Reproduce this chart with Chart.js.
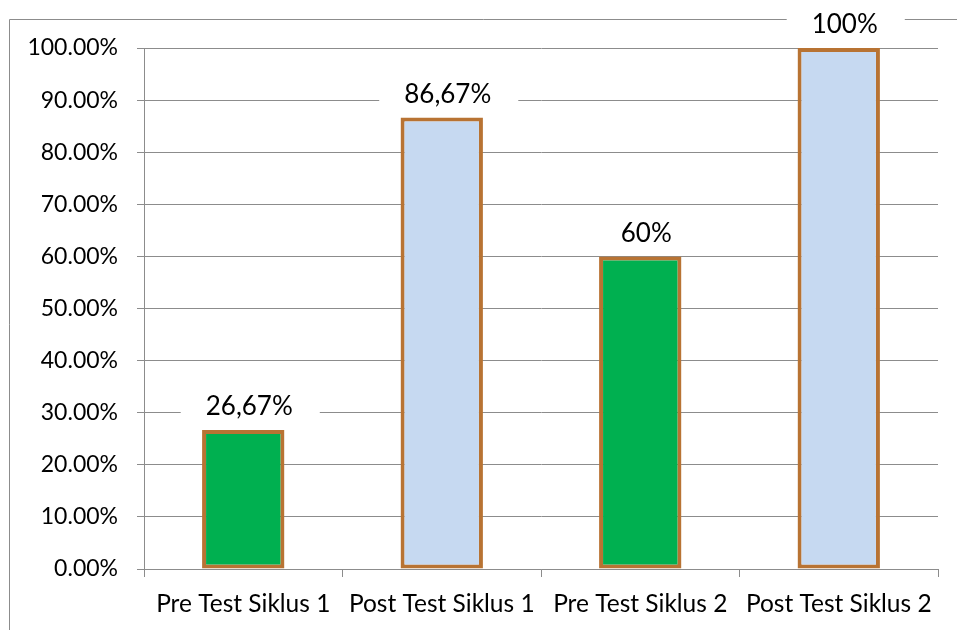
<!DOCTYPE html>
<html>
<head>
<meta charset="utf-8">
<script src="https://cdn.jsdelivr.net/npm/chart.js@4"></script>
<style>
  body { margin: 0; background: #fff; }
  #wrap { width: 957px; height: 630px; }
</style>
</head>
<body>
<div id="wrap"><canvas id="siklusChart" width="957" height="630"></canvas></div>
<script>
const categories = ['Pre Test Siklus 1', 'Post Test Siklus 1', 'Pre Test Siklus 2', 'Post Test Siklus 2'];
const values = [26.67, 86.67, 60, 100];
const valueLabels = ['26,67%', '86,67%', '60%', '100%'];
const barColors = ['#00B050', '#C6D9F1', '#00B050', '#C6D9F1'];

const FONT_Y = { family: 'Lato', size: 23 };
const FONT_X = { family: 'Lato', size: 24.5 };
const LABEL_SIZE = 26;

// frame of the chart, cut off at right and bottom
const framePlugin = {
    id: 'frame',
    beforeDraw(chart) {
        const ctx = chart.ctx;
        ctx.save();
        ctx.strokeStyle = '#8c8c8c';
        ctx.lineWidth = 1;
        ctx.beginPath();
        ctx.moveTo(9.5, 630);
        ctx.lineTo(9.5, 19.5);
        ctx.lineTo(957, 19.5);
        ctx.stroke();
        ctx.restore();
    }
};

// value labels above bars, on a white box
const labelPlugin = {
    id: 'valueLabels',
    afterDatasetsDraw(chart) {
        const ctx = chart.ctx;
        const meta = chart.getDatasetMeta(0);
        ctx.save();
        ctx.font = LABEL_SIZE + 'px Lato';
        ctx.textAlign = 'center';
        ctx.textBaseline = 'middle';
        meta.data.forEach((bar, i) => {
            const text = valueLabels[i];
            const w = ctx.measureText(text).width;
            const cx = bar.x + 6;
            const cy = bar.y - 23;
            ctx.fillStyle = '#fff';
            ctx.fillRect(cx - w / 2 - 25, cy - 15, w + 52, 30);
            ctx.fillStyle = '#000';
            ctx.fillText(text, cx, cy);
        });
        ctx.restore();
    }
};

new Chart(document.getElementById('siklusChart'), {
    type: 'bar',
    data: {
        labels: categories,
        datasets: [{
            data: values,
            backgroundColor: barColors,
            borderColor: '#B87333',
            borderWidth: 4,
            borderSkipped: false,
            categoryPercentage: 1,
            barPercentage: 0.415
        }]
    },
    options: {
        responsive: false,
        animation: false,
        layout: { padding: { top: 48, right: 19, left: 0, bottom: 0 } },
        plugins: {
            legend: { display: false },
            tooltip: { enabled: false }
        },
        scales: {
            x: {
                grid: {
                    drawOnChartArea: false,
                    drawTicks: true,
                    tickLength: 8,
                    tickColor: '#8c8c8c'
                },
                border: { color: '#8c8c8c', width: 1 },
                ticks: { color: '#000', font: FONT_X, padding: 12, maxRotation: 0 },
                afterFit(scale) { scale.height = 61; }
            },
            y: {
                min: 0,
                max: 100,
                grid: {
                    color: '#8c8c8c',
                    tickLength: 7,
                    tickColor: '#8c8c8c'
                },
                border: { color: '#8c8c8c', width: 1 },
                ticks: {
                    stepSize: 10,
                    color: '#000',
                    font: FONT_Y,
                    padding: 19,
                    callback: v => v.toFixed(2) + '%'
                },
                afterFit(scale) { scale.width = 144; }
            }
        }
    },
    plugins: [framePlugin, labelPlugin]
});
</script>
</body>
</html>
